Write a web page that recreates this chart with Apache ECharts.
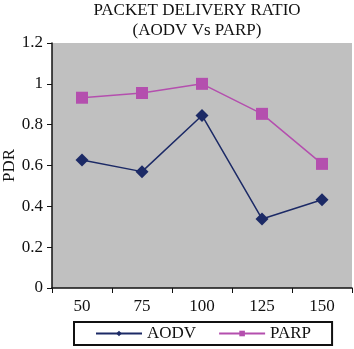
<!DOCTYPE html>
<html><head><meta charset="utf-8">
<script src="https://cdn.jsdelivr.net/npm/echarts@6/dist/echarts.min.js"></script>
<style>html,body{margin:0;padding:0;background:#fff}#c{width:354px;height:349px}</style>
</head><body><div id="c"></div>
<script>
var categories = ['50', '75', '100', '125', '150'];
var aodv = [0.627, 0.57, 0.845, 0.338, 0.432];
var parp = [0.932, 0.955, 1.0, 0.853, 0.608];
var yTicks = [0, 0.2, 0.4, 0.6, 0.8, 1, 1.2];
var titleLines = ['PACKET DELIVERY RATIO', '(AODV Vs PARP)'];

var serif = '"Liberation Serif", "DejaVu Serif", serif';
var chart = echarts.init(document.getElementById('c'), null, {renderer: 'canvas'});
chart.setOption({
  animation: false,
  backgroundColor: '#fff',
  graphic: [{
    type: 'text', x: 197, y: 1,
    style: {text: titleLines.join('\n'), font: '17px ' + serif, fill: '#111', textAlign: 'center', lineHeight: 20}
  }],
  grid: {left: 52, right: 2, top: 43, bottom: 61, show: true, backgroundColor: '#c0c0c0', borderWidth: 0,
    containLabel: false, outerBoundsMode: 'none'},
  legend: {
    left: 74, top: 322, width: 257,
    padding: [3, 21, 3, 21],
    borderColor: '#111', borderWidth: 2,
    itemWidth: 46, itemHeight: 7, itemGap: 22,
    textStyle: {fontFamily: serif, fontSize: 17, color: '#111'},
    data: ['AODV', 'PARP']
  },
  xAxis: {
    type: 'category', data: categories, boundaryGap: true,
    axisLine: {lineStyle: {color: '#111', width: 1.5}},
    axisTick: {show: true, length: 5, interval: 0, lineStyle: {color: '#111'}},
    axisLabel: {fontFamily: serif, fontSize: 17, color: '#111', margin: 10},
    splitLine: {show: false}
  },
  yAxis: {
    type: 'value', min: 0, max: 1.2, interval: 0.2,
    name: 'PDR', nameLocation: 'middle', nameGap: 34, nameMoveOverlap: false,
    nameTextStyle: {fontFamily: serif, fontSize: 17, color: '#111'},
    axisLine: {show: true, lineStyle: {color: '#111', width: 1.5}},
    axisTick: {show: true, length: 5, lineStyle: {color: '#111'}},
    axisLabel: {fontFamily: serif, fontSize: 17, color: '#111', margin: 9,
      formatter: function (v) { return String(Math.round(v * 10) / 10); }},
    splitLine: {show: false}
  },
  series: [{
    name: 'AODV', type: 'line', data: aodv,
    symbol: 'diamond', symbolSize: 13,
    lineStyle: {color: '#1c2a66', width: 1.5},
    itemStyle: {color: '#1c2a66'}
  }, {
    name: 'PARP', type: 'line', data: parp,
    symbol: 'rect', symbolSize: 12,
    lineStyle: {color: '#b44fae', width: 1.5},
    itemStyle: {color: '#b44fae'}
  }]
});
</script></body></html>
